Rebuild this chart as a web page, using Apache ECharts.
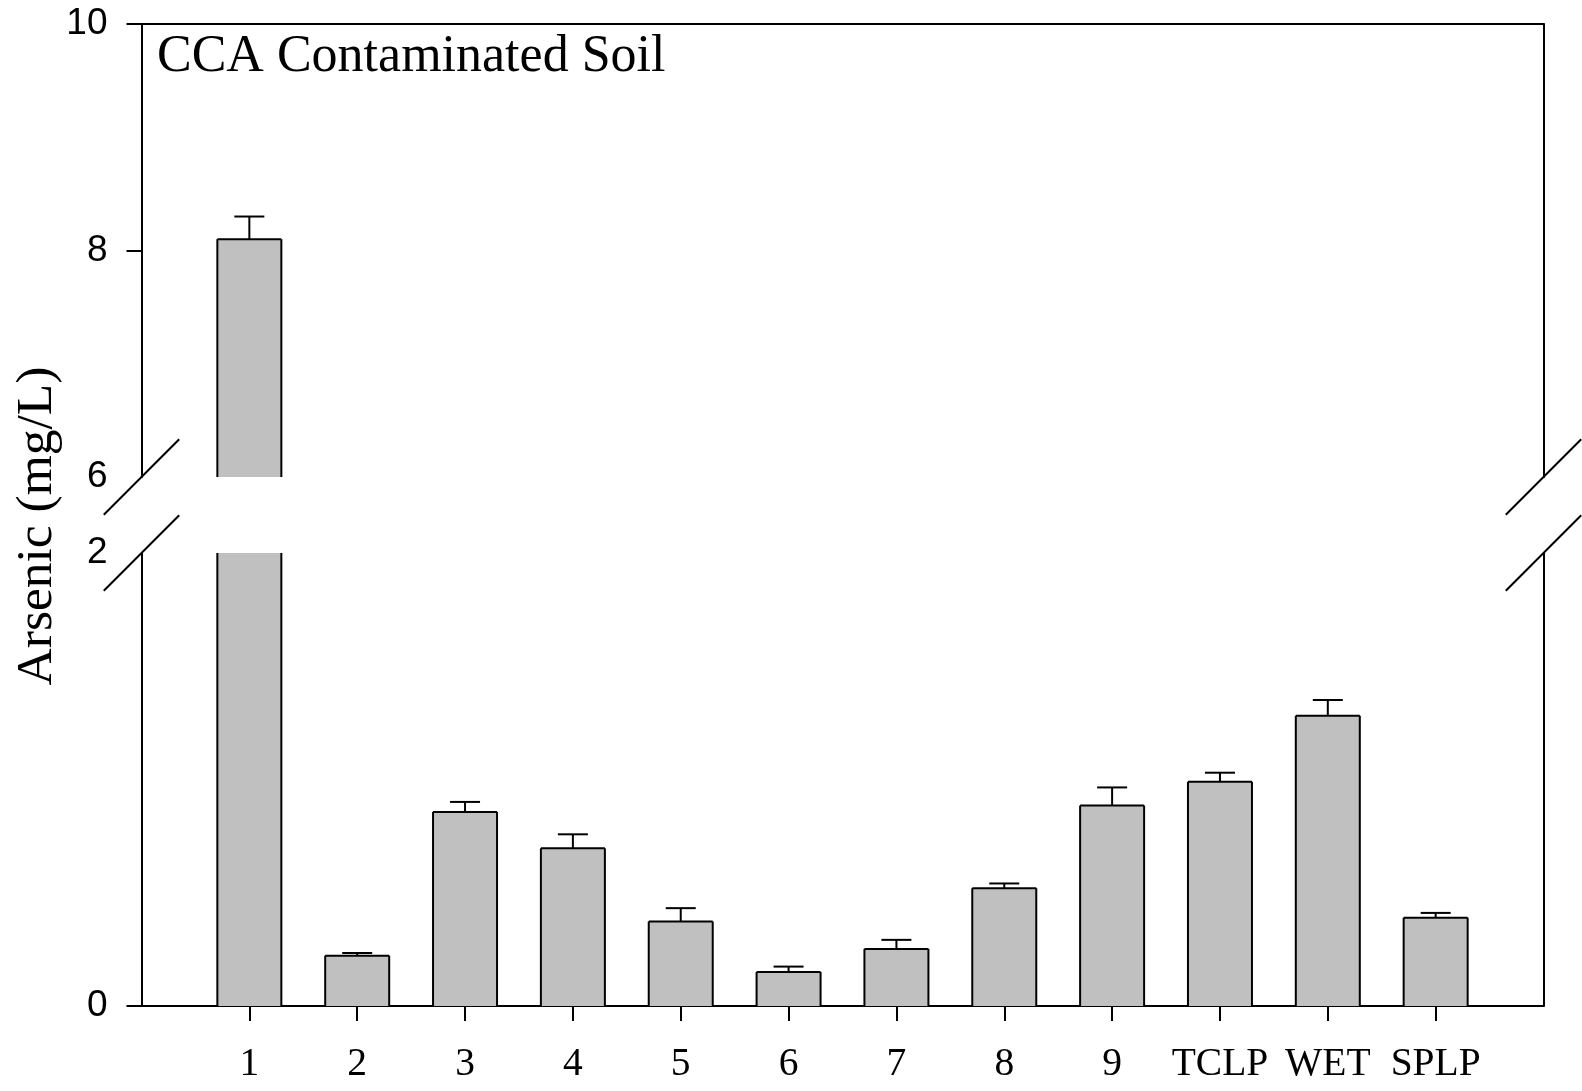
<!DOCTYPE html>
<html>
<head>
<meta charset="utf-8">
<script src="https://cdn.jsdelivr.net/npm/echarts@6/dist/echarts.min.js"></script>
<style>
  html, body { margin: 0; padding: 0; background: #fff; }
  #chart { width: 1582px; height: 1091px; }
</style>
</head>
<body>
<div id="chart"></div>
<script>
// ---- data ----
const categories = ['1', '2', '3', '4', '5', '6', '7', '8', '9', 'TCLP', 'WET', 'SPLP'];
const arsenic = [8.10, 0.222, 0.857, 0.696, 0.373, 0.150, 0.252, 0.520, 0.885, 0.990, 1.282, 0.390];
const errors  = [0.20, 0.012, 0.044, 0.062, 0.059, 0.024, 0.040, 0.021, 0.080, 0.040, 0.069, 0.021];
const upperRange = [6, 10];
const lowerRange = [0, 2];
const upperTickLabels = [6, 8, 10];
const lowerTickLabels = [0, 2];
const titleText = 'CCA Contaminated Soil';
const yTitle = 'Arsenic (mg/L)';

// ---- build ----
const axisCats = [''].concat(categories, ['']);
const barData = arsenic.map((v, i) => [i + 1, v]);
const errData = arsenic.map((v, i) => [i + 1, v, errors[i]]);

const BAR_W = 64;
const CAP_HALF = 15;
const SANS = 'Liberation Sans';
const SERIF = 'Liberation Serif';

function renderOutline(params, api) {
  const i = api.value(0), v = api.value(1), e = api.value(2);
  const cs = params.coordSys;
  const top = api.coord([i, v]);
  const base = api.coord([i, 0]);
  const cx = top[0], hw = BAR_W / 2;
  const gTop = cs.y, gBot = cs.y + cs.height;
  const yTop = Math.max(top[1], gTop);
  const yBot = Math.min(base[1], gBot);
  if (yTop >= yBot) return null;
  const st = { stroke: '#000', lineWidth: 2, fill: null };
  const children = [
    { type: 'line', shape: { x1: cx - hw, y1: yBot, x2: cx - hw, y2: yTop }, style: st },
    { type: 'line', shape: { x1: cx + hw, y1: yBot, x2: cx + hw, y2: yTop }, style: st }
  ];
  if (top[1] >= gTop) {
    children.push({ type: 'line', shape: { x1: cx - hw, y1: top[1], x2: cx + hw, y2: top[1] }, style: st });
    const ey = api.coord([i, v + e])[1];
    if (ey >= gTop) {
      children.push({ type: 'line', shape: { x1: cx, y1: top[1], x2: cx, y2: ey }, style: st });
      children.push({ type: 'line', shape: { x1: cx - CAP_HALF, y1: ey, x2: cx + CAP_HALF, y2: ey }, style: st });
    }
  }
  return { type: 'group', children: children };
}

const lineStyle = { color: '#000', width: 2 };

const chart = echarts.init(document.getElementById('chart'), null, { renderer: 'canvas' });
const option = {
  animation: false,
  backgroundColor: '#fff',
  title: {
    text: titleText,
    left: 157,
    top: 31,
    padding: 0,
    textStyle: { fontFamily: SERIF, fontSize: 52, fontWeight: 'normal', color: '#000' }
  },
  grid: [
    { left: 141.5, right: 38.5, top: 24, height: 453 },
    { left: 141.5, right: 38.5, top: 553, height: 453 }
  ],
  xAxis: [
    { gridIndex: 0, type: 'category', data: axisCats, boundaryGap: false, show: false },
    { gridIndex: 0, type: 'category', data: axisCats, boundaryGap: false, position: 'top',
      axisLine: { show: true, onZero: false, lineStyle: lineStyle }, axisTick: { show: false }, axisLabel: { show: false }, splitLine: { show: false } },
    { gridIndex: 1, type: 'category', data: axisCats, boundaryGap: false, position: 'bottom',
      axisLine: { show: true, onZero: false, lineStyle: lineStyle },
      axisTick: { show: true, length: 15, lineStyle: lineStyle, interval: (idx, val) => val !== '' },
      axisLabel: { interval: 0, margin: 39, fontFamily: SERIF, fontSize: 39.5, color: '#000' },
      splitLine: { show: false } }
  ],
  yAxis: [
    { gridIndex: 0, type: 'value', min: upperRange[0], max: upperRange[1], interval: 2, position: 'left',
      axisLine: { show: true, onZero: false, lineStyle: lineStyle },
      axisTick: { show: true, length: 15, lineStyle: lineStyle, customValues: [8, 10] },
      axisLabel: { margin: 34, fontFamily: SANS, fontSize: 37, color: '#000', customValues: upperTickLabels },
      splitLine: { show: false } },
    { gridIndex: 0, type: 'value', min: upperRange[0], max: upperRange[1], position: 'right',
      axisLine: { show: true, onZero: false, lineStyle: lineStyle }, axisTick: { show: false }, axisLabel: { show: false }, splitLine: { show: false } },
    { gridIndex: 1, type: 'value', min: lowerRange[0], max: lowerRange[1], interval: 2, position: 'left',
      axisLine: { show: true, onZero: false, lineStyle: lineStyle },
      axisTick: { show: true, length: 15, lineStyle: lineStyle, customValues: [0] },
      axisLabel: { margin: 34, fontFamily: SANS, fontSize: 37, color: '#000', customValues: lowerTickLabels },
      splitLine: { show: false } },
    { gridIndex: 1, type: 'value', min: lowerRange[0], max: lowerRange[1], position: 'right',
      axisLine: { show: true, onZero: false, lineStyle: lineStyle }, axisTick: { show: false }, axisLabel: { show: false }, splitLine: { show: false } }
  ],
  series: [
    { type: 'bar', xAxisIndex: 0, yAxisIndex: 0, data: barData, barWidth: BAR_W, clip: true,
      itemStyle: { color: '#c0c0c0', borderWidth: 0 }, z: 2 },
    { type: 'bar', xAxisIndex: 2, yAxisIndex: 2, data: barData, barWidth: BAR_W, clip: true,
      itemStyle: { color: '#c0c0c0', borderWidth: 0 }, z: 2 },
    { type: 'custom', xAxisIndex: 0, yAxisIndex: 0, data: errData, renderItem: renderOutline, z: 3,
      encode: { x: 0, y: 1 } },
    { type: 'custom', xAxisIndex: 2, yAxisIndex: 2, data: errData, renderItem: renderOutline, z: 3,
      encode: { x: 0, y: 1 } }
  ]
};
chart.setOption(option);

// break marks and y-axis title
const pUL = chart.convertToPixel({ xAxisIndex: 0, yAxisIndex: 0 }, [0, upperRange[0]]);
const pUR = chart.convertToPixel({ xAxisIndex: 0, yAxisIndex: 0 }, [axisCats.length - 1, upperRange[0]]);
const pLL = chart.convertToPixel({ xAxisIndex: 2, yAxisIndex: 2 }, [0, lowerRange[1]]);
const pLR = chart.convertToPixel({ xAxisIndex: 2, yAxisIndex: 2 }, [axisCats.length - 1, lowerRange[1]]);
const D = 37.7;
function brk(p) {
  return { type: 'line', shape: { x1: p[0] - D, y1: p[1] + D, x2: p[0] + D, y2: p[1] - D },
           style: { stroke: '#000', lineWidth: 2 }, z: 10 };
}
chart.setOption({
  graphic: [
    brk(pUL), brk(pUR), brk(pLL), brk(pLR),
    { type: 'text', x: 37, y: 526, rotation: Math.PI / 2,
      style: { text: yTitle, fontFamily: SERIF, fontSize: 51.5, fill: '#000', align: 'center', verticalAlign: 'middle' } }
  ]
});
</script>
</body>
</html>
